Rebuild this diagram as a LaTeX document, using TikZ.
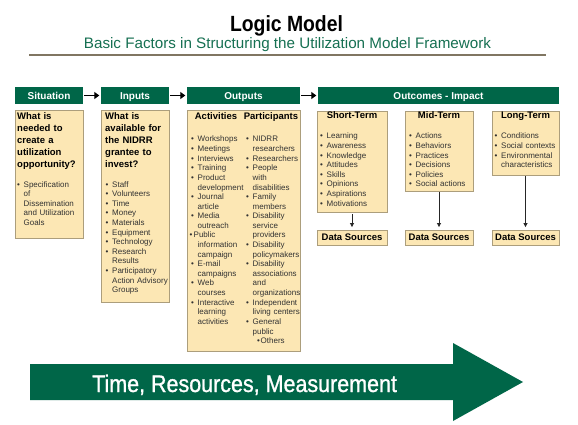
\documentclass[tikz,border=0pt]{standalone}
\usepackage{fontspec}
\setmainfont{Liberation Sans}
\newfontfamily\condfont{Liberation Sans}[FakeStretch=0.88]
\newfontfamily\arrowfont{Liberation Sans}[FakeStretch=0.895,FakeBold=1.0]
\usetikzlibrary{arrows.meta}
\definecolor{lmgreen}{RGB}{0,102,72}
\definecolor{subgreen}{RGB}{22,112,82}
\definecolor{boxfill}{RGB}{252,231,180}
\definecolor{boxline}{RGB}{172,158,124}
\definecolor{rulecol}{RGB}{128,118,98}
\definecolor{itemgray}{RGB}{50,50,50}
\newlength{\bulgap}\setlength{\bulgap}{6.5pt}
\newcommand{\bi}[1]{\makebox[\bulgap][l]{•}#1}
\newcommand{\ci}[1]{\hspace*{\bulgap}#1}
\tikzset{
  bar/.style={fill=lmgreen, draw=none, inner sep=0pt, minimum height=17pt,
    text=white, font=\bfseries\fontsize{10}{12}\selectfont, text height=7.2pt, text depth=0pt},
  tanbox/.style={fill=boxfill, draw=boxline, line width=0.9pt, inner sep=0pt},
  dsbox/.style={tanbox, minimum height=15pt, font=\bfseries\fontsize{9.5}{11}\selectfont,
    text height=6.8pt, text depth=0pt},
  question/.style={anchor=base west, inner sep=0pt, align=left, text width=90pt,
    font=\bfseries\fontsize{9.5}{12}\selectfont},
  itemlist/.style={anchor=base west, inner sep=0pt, align=left, text width=90pt,
    text=itemgray, font=\fontsize{8}{9.6}\selectfont},
  colhead/.style={anchor=base, inner sep=0pt, font=\bfseries\fontsize{9.5}{11}\selectfont},
  flowarrow/.style={line width=1.8pt, -{Triangle[length=5pt,width=7pt]}},
  downarrow/.style={line width=0.8pt, draw=black!85, -{Triangle[length=4pt,width=4pt]}}
}
\begin{document}
\begin{tikzpicture}[x=1pt,y=-1pt]
\useasboundingbox (0,0) rectangle (578,425);
\fill[white] (0,0) rectangle (578,425);

% title
\node[anchor=base, inner sep=0pt, font=\condfont\bfseries\fontsize{22}{26}\selectfont] (title) at (286.5,32) {Logic Model};
\node[anchor=base, inner sep=0pt, text=subgreen, font=\fontsize{15.2}{18}\selectfont] (subtitle) at (287.5,49) {Basic Factors in Structuring the Utilization Model Framework};
\draw[rulecol, line width=1.2pt] (29,55) -- (546,55);

% header bars
\node[bar, minimum width=68pt] (sit) at (49,95.5) {Situation};
\node[bar, minimum width=68pt] (inp) at (135,95.5) {Inputs};
\node[bar, minimum width=113pt] (out) at (243.5,95.5) {Outputs};
\node[bar, minimum width=241pt] (outc) at (438.5,95.5) {Outcomes - Impact};
\draw[flowarrow, shorten <=1pt, shorten >=1.5pt] (sit.east) -- (inp.west);
\draw[flowarrow, shorten <=1pt, shorten >=1.5pt] (inp.east) -- (out.west);
\draw[flowarrow, shorten <=1pt, shorten >=1.5pt] (out.east) -- (outc.west);

% boxes
\node[tanbox, minimum width=68pt, minimum height=128pt] (sitbox) at (49,174) {};
\node[tanbox, minimum width=68pt, minimum height=192pt] (inpbox) at (135,206) {};
\node[tanbox, minimum width=113pt, minimum height=241pt] (outbox) at (243.5,230.5) {};
\node[tanbox, minimum width=70pt, minimum height=101pt] (stbox) at (352,161.5) {};
\node[tanbox, minimum width=68pt, minimum height=80pt] (mtbox) at (439,151) {};
\node[tanbox, minimum width=67pt, minimum height=64pt] (ltbox) at (525.5,143) {};

% situation
\node[question] (sitq) at (17,120) {What is\\needed to\\create a\\utilization\\opportunity?};
\node[itemlist] (sitl) at (17,187) {\bi{Specification}\\\ci{of}\\\ci{Dissemination}\\\ci{and Utilization}\\\ci{Goals}};

% inputs
\node[question] (inpq) at (105,120) {What is\\available for\\the NIDRR\\grantee to\\invest?};
\node[itemlist] (inpl) at (105.5,187) {\bi{Staff}\\\bi{Volunteers}\\\bi{Time}\\\bi{Money}\\\bi{Materials}\\\bi{Equipment}\\\bi{Technology}\\\bi{Research}\\\ci{Results}\\\bi{Participatory}\\\ci{Action Advisory}\\\ci{Groups}};

% outputs
\node[colhead] (acth) at (216,120) {Activities};
\node[colhead] (parh) at (271,120) {Participants};
\node[itemlist] (actl) at (191,142) {\bi{Workshops}\\\bi{Meetings}\\\bi{Interviews}\\\bi{Training}\\\bi{Product}\\\ci{development}\\\bi{Journal}\\\ci{article}\\\bi{Media}\\\ci{outreach}\\\hspace*{-1.5pt}\makebox[4pt][l]{•}Public\\\ci{information}\\\ci{campaign}\\\bi{E-mail}\\\ci{campaigns}\\\bi{Web}\\\ci{courses}\\\bi{Interactive}\\\ci{learning}\\\ci{activities}};
\node[itemlist] (parl) at (246,142) {\bi{NIDRR}\\\ci{researchers}\\\bi{Researchers}\\\bi{People}\\\ci{with}\\\ci{disabilities}\\\bi{Family}\\\ci{members}\\\bi{Disability}\\\ci{service}\\\ci{providers}\\\bi{Disability}\\\ci{policymakers}\\\bi{Disability}\\\ci{associations}\\\ci{and}\\\ci{organizations}\\\bi{Independent}\\\ci{living centers}\\\bi{General}\\\ci{public}\\\hspace*{11pt}\makebox[3.5pt][l]{•}Others};

% outcomes
\node[colhead] (sth) at (352,119) {Short-Term};
\node[colhead] (mth) at (439,119) {Mid-Term};
\node[colhead] (lth) at (525.5,119) {Long-Term};
\node[itemlist] (stl) at (320,139) {\bi{Learning}\\\bi{Awareness}\\\bi{Knowledge}\\\bi{Attitudes}\\\bi{Skills}\\\bi{Opinions}\\\bi{Aspirations}\\\bi{Motivations}};
\node[itemlist] (mtl) at (409,139) {\bi{Actions}\\\bi{Behaviors}\\\bi{Practices}\\\bi{Decisions}\\\bi{Policies}\\\bi{Social actions}};
\node[itemlist] (ltl) at (494.5,139) {\bi{Conditions}\\\bi{Social contexts}\\\bi{Environmental}\\\ci{characteristics}};

% data sources
\node[dsbox, minimum width=70pt] (ds1) at (352,237.5) {Data Sources};
\node[dsbox, minimum width=68pt] (ds2) at (439,237.5) {Data Sources};
\node[dsbox, minimum width=67pt] (ds3) at (525.5,237.5) {Data Sources};
\draw[downarrow, shorten <=2pt, shorten >=2.5pt] (stbox.south) -- (ds1.north);
\draw[downarrow, shorten <=0.5pt, shorten >=2.5pt] (mtbox.south) -- (ds2.north);
\draw[downarrow, shorten <=0.5pt, shorten >=2.5pt] (ltbox.south) -- (ds3.north);

% big arrow
\fill[lmgreen] (30,364) -- (453,364) -- (453,343) -- (523,382) -- (453,421) -- (453,400) -- (30,400) -- cycle;
\node[anchor=base west, inner sep=0pt, text=white, font=\arrowfont\fontsize{24}{28}\selectfont] (trm) at (92,392) {Time, Resources, Measurement};
\end{tikzpicture}
\end{document}
